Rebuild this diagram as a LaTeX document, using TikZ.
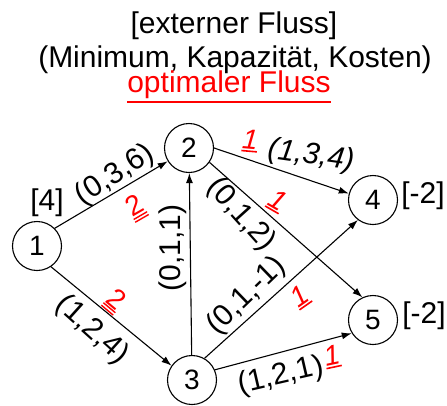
\documentclass[tikz,border=0pt]{standalone}
\usepackage{fontspec}
\setmainfont{Liberation Sans}
\usetikzlibrary{arrows.meta}
\newcommand\ulA[1]{\vtop{\hbox{#1}\kern1.2pt\hrule height 1.6pt}}
\newcommand\ulB[1]{\vtop{\hbox{#1}\kern1.2pt\hrule height 1.4pt\kern1.8pt\hrule height 1.4pt}}
\newcommand\ulT[1]{\vtop{\hbox{#1}\kern3pt\hrule height 2pt}}
\begin{document}
\begin{tikzpicture}[x=1pt,y=-1pt,
  vert/.style={draw,circle,minimum size=49pt,inner sep=0pt,line width=1.1pt,font=\fontsize{28}{28}\selectfont},
  edge/.style={-{Latex[length=10pt,width=7pt]},line width=1.1pt},
  lab/.style={font=\fontsize{30}{30}\selectfont,inner sep=0pt},
  flow/.style={font=\fontsize{28}{28}\selectfont,text=red,inner sep=0pt},
  ttl/.style={font=\fontsize{30}{30}\selectfont,inner sep=0pt}]
\useasboundingbox (0,0) rectangle (447,405);
\node[ttl,anchor=base] (t1) at (234,33) {[externer Fluss]};
\node[ttl,anchor=base] (t2) at (235,67) {(Minimum, Kapazität, Kosten)};
\node[ttl,anchor=base,text=red] (t3) at (229,92) {\ulT{optimaler Fluss}};
\node[vert] (n1) at (37,246) {1};
\node[vert] (n2) at (189,148) {2};
\node[vert] (n3) at (192,380) {3};
\node[vert] (n4) at (373,200) {4};
\node[vert] (n5) at (373,320) {5};
\draw[edge] (n1.45) -- (n2.212);
\draw[edge] (n1.-56) -- (n3.145);
\draw[edge] (n3) -- (n2);
\draw[edge] (n2.east) -- (n4.165);
\draw[edge] (n2.-35) -- (n5.115);
\draw[edge] (n3.60) -- (n4.233);
\draw[edge] (n3.24) -- (n5.212);
\node[lab,rotate=33] (l12) at (115,175) {(0,3,6)};
\node[flow,rotate=30] (f12) at (136,208) {\ulB{2}};
\node[lab] (e1) at (47,203) {[4]};
\node[lab,rotate=90] (l32) at (173,248) {(0,1,1)};
\node[lab,rotate=-8] (l24) at (311,156) {\itshape(1,3,4)};
\node[flow,rotate=-5] (f24) at (250,141) {\itshape\ulA{1}};
\node[lab,rotate=-48] (l25) at (241,215) {(0,1,2)};
\node[flow,rotate=-30] (f25) at (277,201) {\itshape\ulA{1}};
\node[lab,rotate=44] (l34) at (247,296) {(0,1,-1)};
\node[flow,rotate=35] (f34) at (300,297) {\itshape\ulA{1}};
\node[lab,rotate=-42] (l13) at (92,330) {(1,2,4)};
\node[flow,rotate=-40] (f13) at (115,301) {\ulB{2}};
\node[lab,rotate=13] (l35) at (281,376) {(1,2,1)};
\node[flow,rotate=12] (f35) at (332,357) {\itshape\ulA{1}};
\node[lab] (e4) at (423,196) {[-2]};
\node[lab] (e5) at (424,316) {[-2]};
\end{tikzpicture}
\end{document}
